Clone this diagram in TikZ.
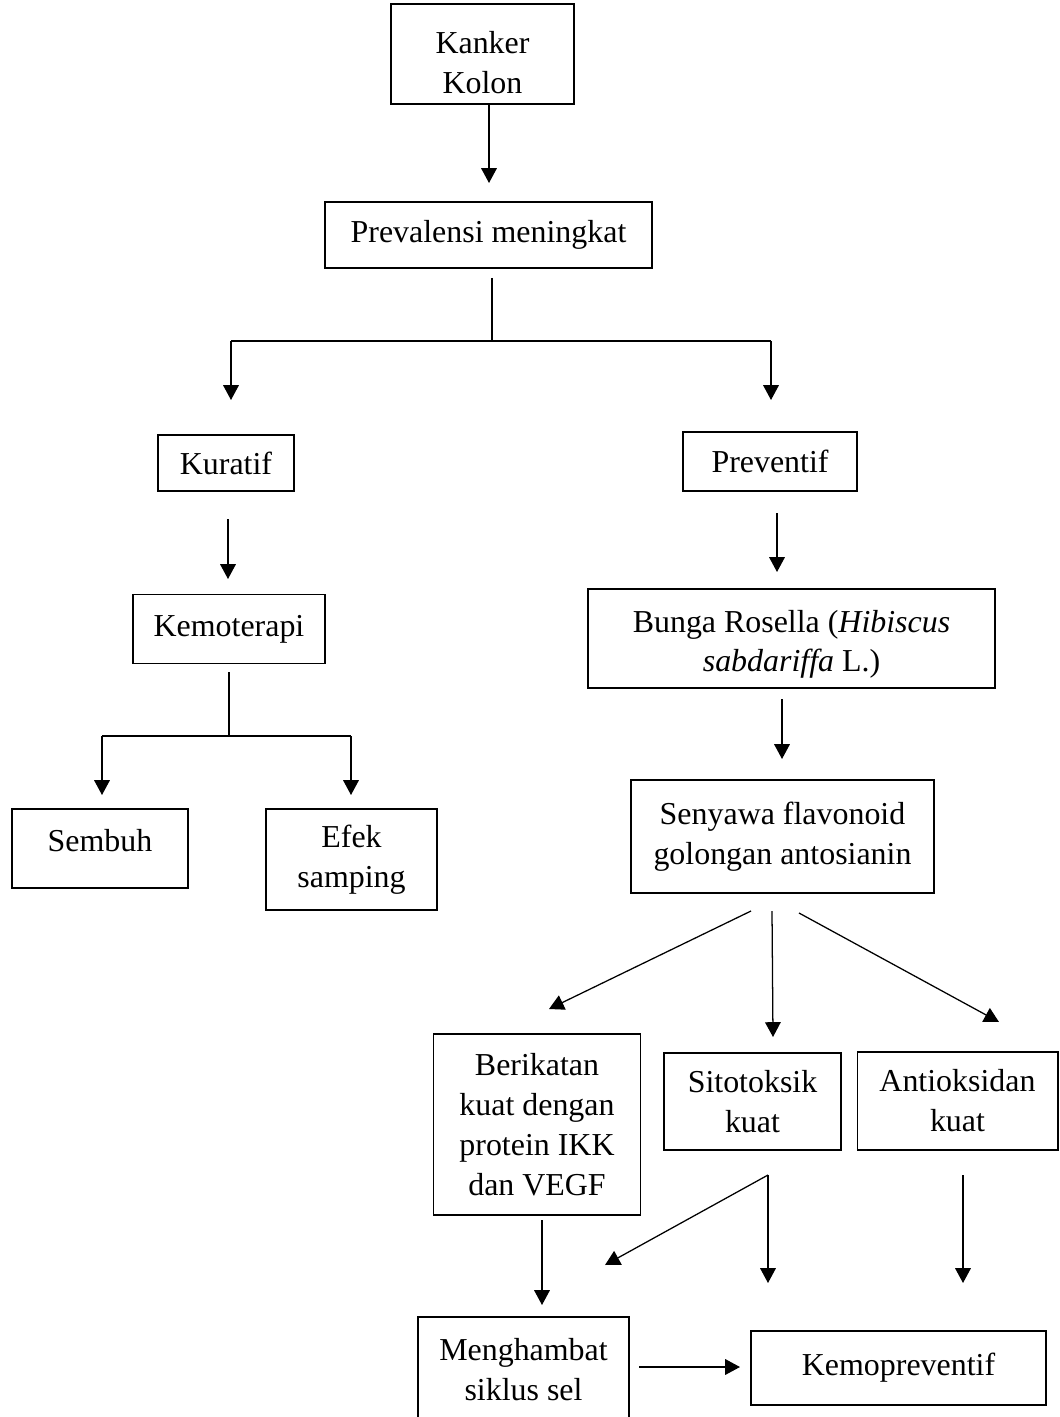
\documentclass[tikz,border=0pt]{standalone}
\usepackage{fontspec}
\setmainfont{Liberation Serif}
\usetikzlibrary{arrows.meta}
\def\px{0.025cm}
\tikzset{
  box/.style={draw=black, line width=1.4pt, rectangle, inner sep=0pt, align=center,
    font=\fontsize{22.7pt}{28.4pt}\selectfont},
  ln/.style={draw=black, line width=0.9pt},
  arr/.style={draw=black, line width=0.9pt, -{Triangle[length=0.37cm,width=0.39cm]}},
}
\begin{document}
\begin{tikzpicture}[x=\px, y=-\px]
  \useasboundingbox (0,0) rectangle (1059,1417);
  % boxes
  \node[box, minimum width=183*\px, minimum height=100*\px, text height=56.4pt] (kanker) at (482.5,54) {Kanker\\Kolon};
  \node[box, minimum width=327*\px, minimum height=66*\px] (prev) at (488.5,235) {Prevalensi meningkat};
  \node[box, minimum width=136*\px, minimum height=56*\px] (kuratif) at (226,463) {Kuratif};
  \node[box, minimum width=174*\px, minimum height=59*\px] (preventif) at (770,461.5) {Preventif};
  \node[box, minimum width=192*\px, minimum height=69*\px] (kemo) at (229,629) {Kemoterapi};
  \node[box, minimum width=407*\px, minimum height=99*\px, text height=52.4pt] (bunga) at (791.5,638.5) {Bunga Rosella (\textit{Hibiscus}\\\textit{sabdariffa} L.)};
  \node[box, minimum width=176*\px, minimum height=79*\px, text depth=11pt] (sembuh) at (100,848.5) {Sembuh};
  \node[box, minimum width=171*\px, minimum height=101*\px] (efek) at (351.5,859.5) {Efek\\samping};
  \node[box, minimum width=303*\px, minimum height=113*\px] (senyawa) at (782.5,836.5) {Senyawa flavonoid\\golongan antosianin};
  \node[box, minimum width=207*\px, minimum height=181*\px] (ikat) at (537,1124.5) {Berikatan\\kuat dengan\\protein IKK\\dan VEGF};
  \node[box, minimum width=177*\px, minimum height=97*\px] (sito) at (752.5,1101.5) {Sitotoksik\\kuat};
  \node[box, minimum width=200*\px, minimum height=98*\px] (antiok) at (957.5,1101) {Antioksidan\\kuat};
  \node[box, minimum width=211*\px, minimum height=106*\px] (hambat) at (523.5,1370) {Menghambat\\siklus sel};
  \node[box, minimum width=295*\px, minimum height=74*\px] (kemoprev) at (898.5,1367.5) {Kemopreventif};
  % free ends of the connectors
  \coordinate (t1) at (489,183);
  \coordinate (p0) at (492,278);
  \coordinate (p1) at (492,341);
  \coordinate (pL) at (231,341);
  \coordinate (pR) at (771,341);
  \coordinate (pLt) at (231,400);
  \coordinate (pRt) at (771,400);
  \coordinate (k0) at (228,519);
  \coordinate (k1) at (228,579);
  \coordinate (v0) at (777,513);
  \coordinate (v1) at (777,572);
  \coordinate (m0) at (229,672);
  \coordinate (m1) at (229,736);
  \coordinate (mL) at (102,736);
  \coordinate (mR) at (351,736);
  \coordinate (mLt) at (102,795);
  \coordinate (mRt) at (351,795);
  \coordinate (b0) at (782,699);
  \coordinate (b1) at (782,759);
  \coordinate (sL) at (751,911);
  \coordinate (sM) at (772,911);
  \coordinate (sR) at (799,913);
  \coordinate (sLt) at (549,1009);
  \coordinate (sMt) at (773,1037);
  \coordinate (sRt) at (999,1022);
  \coordinate (i0) at (542,1220);
  \coordinate (i1) at (542,1305);
  \coordinate (c0) at (768,1175);
  \coordinate (cLt) at (605,1265);
  \coordinate (cMt) at (768,1283);
  \coordinate (a0) at (963,1175);
  \coordinate (a1) at (963,1283);
  \coordinate (h0) at (639,1367);
  \coordinate (h1) at (740,1367);
  % connectors
  \draw[arr] (kanker.south -| t1) -- (t1);
  \draw[ln] (p0) -- (p1);
  \draw[ln] (pL) -- (pR);
  \draw[arr] (pL) -- (pLt);
  \draw[arr] (pR) -- (pRt);
  \draw[arr] (k0) -- (k1);
  \draw[arr] (v0) -- (v1);
  \draw[ln] (m0) -- (m1);
  \draw[ln] (mL) -- (mR);
  \draw[arr] (mL) -- (mLt);
  \draw[arr] (mR) -- (mRt);
  \draw[arr] (b0) -- (b1);
  \draw[arr] (sL) -- (sLt);
  \draw[arr] (sM) -- (sMt);
  \draw[arr] (sR) -- (sRt);
  \draw[arr] (i0) -- (i1);
  \draw[arr] (c0) -- (cLt);
  \draw[arr] (c0) -- (cMt);
  \draw[arr] (a0) -- (a1);
  \draw[arr] (h0) -- (h1);
\end{tikzpicture}
\end{document}
